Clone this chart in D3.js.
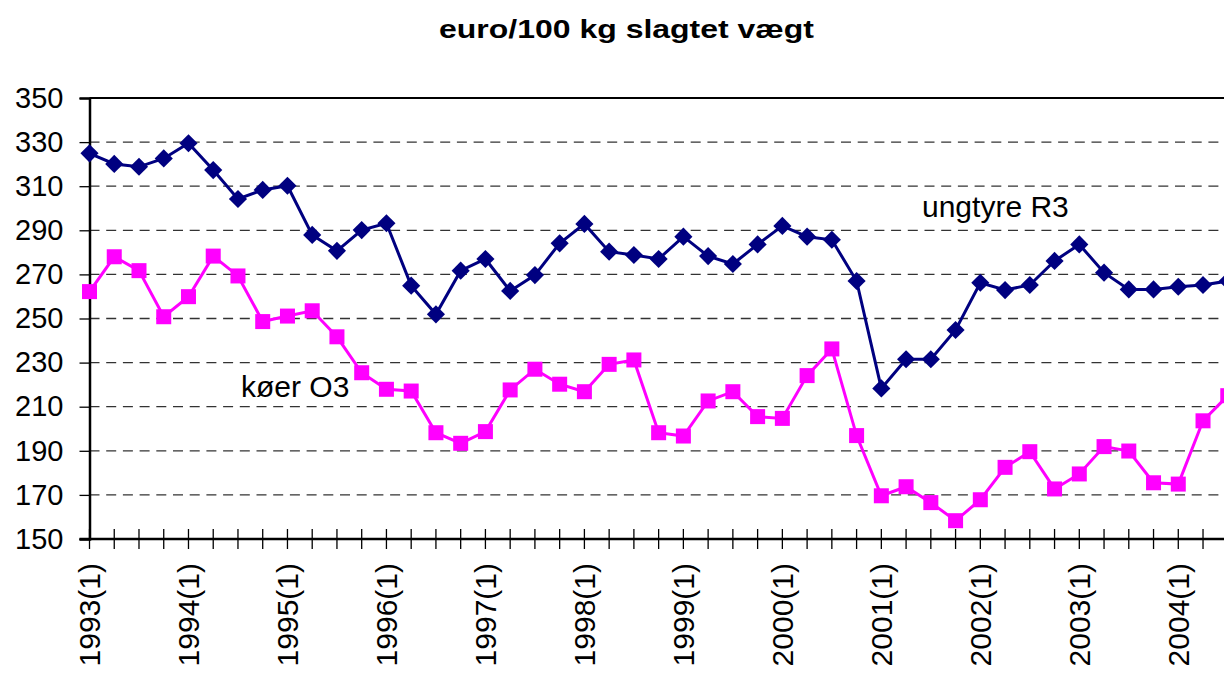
<!DOCTYPE html>
<html>
<head>
<meta charset="utf-8">
<script src="https://cdn.jsdelivr.net/npm/d3@7"></script>
<style>
  body { margin: 0; background: #fff; }
  text { font-family: Arial, "Liberation Sans", sans-serif; fill: #000; }
</style>
</head>
<body>
<svg id="chart" width="1224" height="673"></svg>
<script>
// ----- data -----
const years = [1993, 1994, 1995, 1996, 1997, 1998, 1999, 2000, 2001, 2002, 2003, 2004];
const quarters = [1, 2, 3, 4];
const tickLabels = ["1993(1)", "1994(1)", "1995(1)", "1996(1)", "1997(1)", "1998(1)",
  "1999(1)", "2000(1)", "2001(1)", "2002(1)", "2003(1)", "2004(1)"];
const yTicks = [150, 170, 190, 210, 230, 250, 270, 290, 310, 330, 350];

const ungtyre = [324.9, 320.1, 318.8, 322.6, 329.5, 317.3, 304.2, 308.3, 310.2, 287.9,
  280.7, 290.1, 293.2, 264.9, 251.9, 271.7, 277.0, 262.5, 269.7, 284.1,
  292.9, 280.3, 278.8, 277.0, 287.1, 278.3, 274.7, 283.6, 292.0, 287.1,
  285.7, 267.0, 218.3, 231.5, 231.5, 244.8, 266.2, 262.9, 265.2, 276.1,
  283.6, 270.8, 263.2, 263.2, 264.4, 265.2, 267.0];

const koer = [262.2, 278.0, 271.7, 250.8, 259.9, 278.3, 269.3, 248.6, 251.1, 253.5,
  241.7, 225.4, 217.9, 217.1, 198.2, 193.4, 198.7, 217.6, 227.0, 220.2,
  216.8, 229.2, 231.2, 198.2, 196.7, 212.6, 216.8, 205.5, 204.7, 224.1,
  236.2, 196.9, 169.6, 173.7, 166.5, 158.3, 167.8, 182.5, 189.6, 172.7,
  179.5, 191.9, 189.9, 175.5, 174.9, 203.6, 215.0];

const categories = [];
years.forEach(y => quarters.forEach(q => categories.push(`${y}(${q})`)));
const cats = categories.slice(0, ungtyre.length);

// ----- layout -----
const svg = d3.select("svg#chart");

const xScale = d3.scalePoint()
  .domain(cats)
  .range([89.5, 89.5 + 24.745 * (cats.length - 1)]);

const yScale = d3.scaleLinear()
  .domain([150, 350])
  .range([539, 98]);

const plotLeft = 89.5, plotRight = 1240;

// title
svg.append("text")
  .attr("x", 439)
  .attr("y", 38)
  .attr("textLength", 375)
  .attr("lengthAdjust", "spacingAndGlyphs")
  .style("font-size", "26px")
  .style("font-weight", "bold")
  .text("euro/100 kg slagtet vægt");

// gridlines
svg.append("g")
  .selectAll("line")
  .data(yTicks.filter(d => d > 150 && d < 350))
  .join("line")
  .attr("x1", plotLeft)
  .attr("x2", plotRight)
  .attr("y1", d => yScale(d))
  .attr("y2", d => yScale(d))
  .attr("stroke", "#333")
  .attr("stroke-width", 1.3)
  .attr("stroke-dasharray", "10,6.7");

// top border
svg.append("line")
  .attr("x1", plotLeft).attr("x2", plotRight)
  .attr("y1", yScale(350)).attr("y2", yScale(350))
  .attr("stroke", "#000").attr("stroke-width", 2);

// y axis
const yAxis = d3.axisLeft(yScale).tickValues(yTicks).tickSize(10).tickPadding(16);
const yG = svg.append("g")
  .attr("transform", `translate(${plotLeft},0)`)
  .call(yAxis);
yG.select(".domain").attr("stroke-width", 2.5);
yG.selectAll(".tick line").attr("stroke-width", 1.3);
yG.selectAll(".tick text")
  .style("font-size", "29px")
  .attr("font-family", null);

// x axis: ticks crossing the axis line at every quarter
const xG = svg.append("g").attr("transform", `translate(0,${yScale(150)})`);
xG.append("line")
  .attr("x1", plotLeft - 10).attr("x2", plotRight)
  .attr("stroke", "#000").attr("stroke-width", 2.5);
xG.selectAll("line.tk")
  .data(cats)
  .join("line")
  .attr("class", "tk")
  .attr("x1", d => xScale(d)).attr("x2", d => xScale(d))
  .attr("y1", -10).attr("y2", 10)
  .attr("stroke", "#000").attr("stroke-width", 1.3);
xG.selectAll("text.lbl")
  .data(tickLabels)
  .join("text")
  .attr("class", "lbl")
  .attr("transform", d => `translate(${xScale(d)},24) rotate(-90)`)
  .attr("text-anchor", "end")
  .attr("dy", "0.35em")
  .style("font-size", "30px")
  .text(d => d);

// series
const line = d3.line()
  .x((d, i) => xScale(cats[i]))
  .y(d => yScale(d));

svg.append("path")
  .datum(ungtyre)
  .attr("d", line)
  .attr("fill", "none")
  .attr("stroke", "#000080")
  .attr("stroke-width", 3);

svg.append("g")
  .selectAll("path")
  .data(ungtyre)
  .join("path")
  .attr("d", d3.symbol().type(d3.symbolDiamond2).size(210))
  .attr("transform", (d, i) => `translate(${xScale(cats[i])},${yScale(d)})`)
  .attr("fill", "#000080");

svg.append("path")
  .datum(koer)
  .attr("d", line)
  .attr("fill", "none")
  .attr("stroke", "#FF00FF")
  .attr("stroke-width", 3);

const sq = 15;
svg.append("g")
  .selectAll("rect")
  .data(koer)
  .join("rect")
  .attr("x", (d, i) => xScale(cats[i]) - sq / 2)
  .attr("y", d => yScale(d) - sq / 2)
  .attr("width", sq)
  .attr("height", sq)
  .attr("fill", "#FF00FF");

// series labels
svg.append("text")
  .attr("x", 922).attr("y", 217)
  .style("font-size", "30px")
  .text("ungtyre R3");

svg.append("text")
  .attr("x", 241).attr("y", 397)
  .style("font-size", "30px")
  .text("køer O3");
</script>
</body>
</html>
